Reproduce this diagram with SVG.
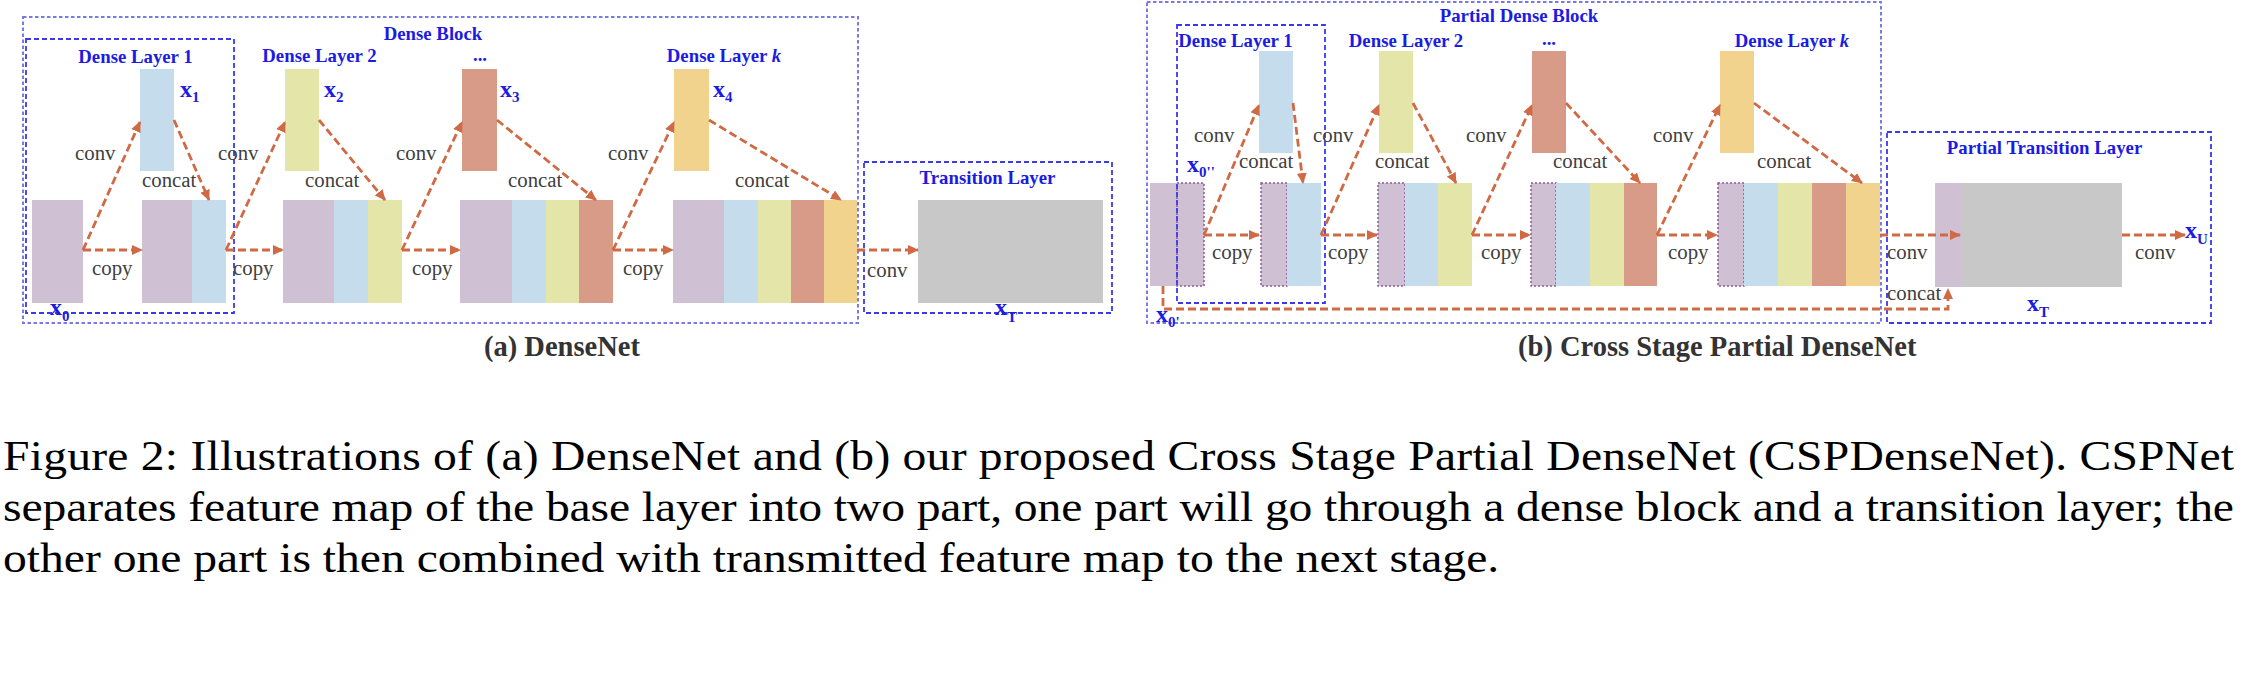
<svg xmlns="http://www.w3.org/2000/svg" width="2246" height="676" viewBox="0 0 2246 676" font-family="'Liberation Serif', 'DejaVu Serif', serif">
<style>
text{font-family:'Liberation Serif','DejaVu Serif',serif}
.t{font-weight:bold;fill:#1c1ce0;font-size:18.8px;text-anchor:middle}
.l{fill:#404040;font-size:20.8px}
.x{font-weight:bold;fill:#1c1ce0;font-size:24px}
.s{font-size:15px}
.sub{font-weight:bold;fill:#333;font-size:28.5px}
.cap{fill:#000;font-size:47.6px}
.ob{fill:none;stroke:#7a7ae6;stroke-width:2;stroke-dasharray:3.5 2.5}
.ib{fill:none;stroke:#3a3ae8;stroke-width:1.8;stroke-dasharray:5 3}
.a{fill:none;stroke:#cf6a45;stroke-width:2.8;stroke-dasharray:8 4;marker-end:url(#ah)}
.p{fill:#cfc0d3}.b{fill:#c5dcec}.g{fill:#e3e5a9}.r{fill:#d89b87}.o{fill:#f1d38e}.gy{fill:#c8c8c8}
.pd{fill:#cfc0d3;stroke:#8a5a9e;stroke-width:1.5;stroke-dasharray:2 2}
</style>
<defs>
<marker id="ah" markerUnits="userSpaceOnUse" markerWidth="11" markerHeight="11" refX="10" refY="5.5" orient="auto">
<path d="M0,0.5 L11,5.5 L0,10.5 z" fill="#cf6a45"/>
</marker>
</defs>
<rect width="2246" height="676" fill="#fff"/>

<!-- Panel (a) -->
<g id="a-denseblock">
<rect class="ob" x="23" y="17" width="835" height="306"/>
<text class="t" x="433" y="40">Dense Block</text>
</g>
<g id="a-denselayer1">
<rect class="ib" x="26" y="39" width="208" height="274"/>
<text class="t" x="135.5" y="63">Dense Layer 1</text>
</g>
<g id="a-x0">
<rect class="p" x="32" y="200" width="51" height="103"/>
<text class="x" x="50" y="315">x<tspan class="s" dy="6">0</tspan></text>
</g>
<g id="a-x1">
<rect class="b" x="140" y="69" width="34" height="102"/>
<text class="x" x="180" y="97">x<tspan class="s" dy="5">1</tspan></text>
</g>
<g id="a-block1">
<rect class="p" x="142" y="200" width="50" height="103"/>
<rect class="b" x="192" y="200" width="34" height="103"/>
</g>
<g id="a-x2">
<text class="t" x="319.5" y="62">Dense Layer 2</text>
<rect class="g" x="285" y="69" width="34" height="102"/>
<text class="x" x="324" y="97">x<tspan class="s" dy="5">2</tspan></text>
</g>
<g id="a-block2">
<rect class="p" x="283" y="200" width="51" height="103"/>
<rect class="b" x="334" y="200" width="34" height="103"/>
<rect class="g" x="368" y="200" width="34" height="103"/>
</g>
<g id="a-x3">
<text class="t" x="480" y="61">...</text>
<rect class="r" x="462" y="69" width="35" height="102"/>
<text class="x" x="500" y="97">x<tspan class="s" dy="5">3</tspan></text>
</g>
<g id="a-block3">
<rect class="p" x="460" y="200" width="52" height="103"/>
<rect class="b" x="512" y="200" width="34" height="103"/>
<rect class="g" x="546" y="200" width="33" height="103"/>
<rect class="r" x="579" y="200" width="34" height="103"/>
</g>
<g id="a-x4">
<text class="t" x="724" y="62">Dense Layer <tspan font-style="italic">k</tspan></text>
<rect class="o" x="674" y="69" width="35" height="102"/>
<text class="x" x="713" y="97">x<tspan class="s" dy="5">4</tspan></text>
</g>
<g id="a-block4">
<rect class="p" x="673" y="200" width="51" height="103"/>
<rect class="b" x="724" y="200" width="34" height="103"/>
<rect class="g" x="758" y="200" width="33" height="103"/>
<rect class="r" x="791" y="200" width="33" height="103"/>
<rect class="o" x="824" y="200" width="33" height="103"/>
</g>
<g id="a-transition">
<rect class="ib" x="864" y="162" width="248" height="151"/>
<text class="t" x="987.5" y="184">Transition Layer</text>
<rect class="gy" x="918" y="200" width="185" height="103"/>
<text class="x" x="995" y="315">x<tspan class="s" dy="7">T</tspan></text>
</g>

<!-- Panel (b) -->
<g id="b-partialdenseblock">
<rect class="ob" x="1147" y="2" width="734" height="321"/>
<text class="t" x="1519" y="22">Partial Dense Block</text>
</g>
<g id="b-base">
<rect class="p" x="1150" y="183" width="54" height="103"/>
<rect class="pd" x="1177" y="183" width="27" height="103"/>
<text class="x" x="1187" y="172">x<tspan class="s" dy="5">0''</tspan></text>
<text class="x" x="1156" y="322">x<tspan class="s" dy="5">0'</tspan></text>
</g>
<g id="b-denselayer1">
<rect class="ib" x="1177" y="25" width="148" height="278"/>
<text class="t" x="1235.5" y="47">Dense Layer 1</text>
</g>
<g id="b-x1">
<rect class="b" x="1259" y="51" width="34" height="102"/>
</g>
<g id="b-block1">
<rect class="pd" x="1261" y="183" width="26" height="103"/>
<rect class="b" x="1287" y="183" width="34" height="103"/>
</g>
<g id="b-x2">
<text class="t" x="1406" y="47">Dense Layer 2</text>
<rect class="g" x="1379" y="51" width="34" height="102"/>
</g>
<g id="b-block2">
<rect class="pd" x="1378" y="183" width="27" height="103"/>
<rect class="b" x="1405" y="183" width="33" height="103"/>
<rect class="g" x="1438" y="183" width="34" height="103"/>
</g>
<g id="b-x3">
<text class="t" x="1549" y="45">...</text>
<rect class="r" x="1532" y="51" width="34" height="102"/>
</g>
<g id="b-block3">
<rect class="pd" x="1531" y="183" width="25" height="103"/>
<rect class="b" x="1556" y="183" width="34" height="103"/>
<rect class="g" x="1590" y="183" width="34" height="103"/>
<rect class="r" x="1624" y="183" width="33" height="103"/>
</g>
<g id="b-x4">
<text class="t" x="1792" y="47">Dense Layer <tspan font-style="italic">k</tspan></text>
<rect class="o" x="1720" y="51" width="34" height="102"/>
</g>
<g id="b-block4">
<rect class="pd" x="1718" y="183" width="26" height="103"/>
<rect class="b" x="1744" y="183" width="34" height="103"/>
<rect class="g" x="1778" y="183" width="34" height="103"/>
<rect class="r" x="1812" y="183" width="34" height="103"/>
<rect class="o" x="1846" y="183" width="34" height="103"/>
</g>
<g id="b-partialtransition">
<rect class="ib" x="1887" y="132" width="324" height="191"/>
<text class="t" x="2044.5" y="154">Partial Transition Layer</text>
<rect class="p" x="1935" y="183" width="26" height="104"/>
<rect class="gy" x="1961" y="183" width="161" height="104"/>
<text class="x" x="2027" y="311">x<tspan class="s" dy="6">T</tspan></text>
</g>
<g id="b-xU">
<text class="x" x="2185" y="238">x<tspan class="s" dy="6">U</tspan></text>
</g>

<!-- Connectors -->
<g id="connectors">
<line class="a" x1="83" y1="250" x2="140" y2="122"/>
<line class="a" x1="83" y1="250" x2="142" y2="250"/>
<line class="a" x1="174" y1="120" x2="209" y2="200"/>
<line class="a" x1="226" y1="250" x2="285" y2="122"/>
<line class="a" x1="226" y1="250" x2="283" y2="250"/>
<line class="a" x1="319" y1="120" x2="385" y2="200"/>
<line class="a" x1="402" y1="250" x2="462" y2="122"/>
<line class="a" x1="402" y1="250" x2="460" y2="250"/>
<line class="a" x1="497" y1="120" x2="596" y2="200"/>
<line class="a" x1="613" y1="250" x2="674" y2="122"/>
<line class="a" x1="613" y1="250" x2="673" y2="250"/>
<line class="a" x1="709" y1="120" x2="841" y2="200"/>
<line class="a" x1="857" y1="250" x2="918" y2="250"/>

<line class="a" x1="1204" y1="235" x2="1259" y2="105"/>
<line class="a" x1="1204" y1="235" x2="1259" y2="235"/>
<line class="a" x1="1293" y1="103" x2="1303" y2="183"/>
<line class="a" x1="1321" y1="235" x2="1379" y2="105"/>
<line class="a" x1="1321" y1="235" x2="1377" y2="235"/>
<line class="a" x1="1413" y1="103" x2="1456" y2="183"/>
<line class="a" x1="1472" y1="235" x2="1532" y2="105"/>
<line class="a" x1="1472" y1="235" x2="1530" y2="235"/>
<line class="a" x1="1566" y1="103" x2="1640" y2="183"/>
<line class="a" x1="1657" y1="235" x2="1720" y2="105"/>
<line class="a" x1="1657" y1="235" x2="1717" y2="235"/>
<line class="a" x1="1754" y1="103" x2="1862" y2="183"/>
<line class="a" x1="1880" y1="235" x2="1960" y2="235"/>
<line class="a" x1="2122" y1="235" x2="2185" y2="235"/>
<polyline class="a" points="1163,286 1163,309 1948,309 1948,289"/>

<text class="l" x="75" y="160">conv</text>
<text class="l" x="92" y="275">copy</text>
<text class="l" x="142" y="187">concat</text>
<text class="l" x="218" y="160">conv</text>
<text class="l" x="233" y="275">copy</text>
<text class="l" x="305" y="187">concat</text>
<text class="l" x="396" y="160">conv</text>
<text class="l" x="412" y="275">copy</text>
<text class="l" x="508" y="187">concat</text>
<text class="l" x="608" y="160">conv</text>
<text class="l" x="623" y="275">copy</text>
<text class="l" x="735" y="187">concat</text>
<text class="l" x="867" y="277">conv</text>

<text class="l" x="1194" y="142">conv</text>
<text class="l" x="1212" y="259">copy</text>
<text class="l" x="1239" y="168">concat</text>
<text class="l" x="1313" y="142">conv</text>
<text class="l" x="1328" y="259">copy</text>
<text class="l" x="1375" y="168">concat</text>
<text class="l" x="1466" y="142">conv</text>
<text class="l" x="1481" y="259">copy</text>
<text class="l" x="1553" y="168">concat</text>
<text class="l" x="1653" y="142">conv</text>
<text class="l" x="1668" y="259">copy</text>
<text class="l" x="1757" y="168">concat</text>
<text class="l" x="1887" y="259">conv</text>
<text class="l" x="1887" y="300">concat</text>
<text class="l" x="2135" y="259">conv</text>
</g>

<text class="sub" x="484" y="356">(a) DenseNet</text>
<text class="sub" x="1518" y="356">(b) Cross Stage Partial DenseNet</text>

<g transform="scale(1,0.87)">
<text class="cap" x="3" y="540.2" textLength="2231" lengthAdjust="spacing">Figure 2: Illustrations of (a) DenseNet and (b) our proposed Cross Stage Partial DenseNet (CSPDenseNet). CSPNet</text>
<text class="cap" x="3" y="598.9" textLength="2231" lengthAdjust="spacing">separates feature map of the base layer into two part, one part will go through a dense block and a transition layer; the</text>
<text class="cap" x="3" y="657.5">other one part is then combined with transmitted feature map to the next stage.</text>
</g>
</svg>
